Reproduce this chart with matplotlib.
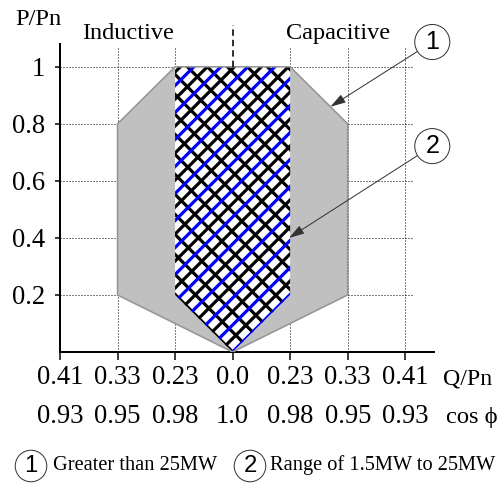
import matplotlib
matplotlib.use('Agg')
import numpy as np
import matplotlib.pyplot as plt
import matplotlib.transforms as mtrans
from matplotlib.patches import Polygon
from matplotlib.collections import LineCollection

# ---------------- data ----------------
q_pos = [-3, -2, -1, 0, 1, 2, 3]                      # evenly spaced tick slots
q_labels = ['0.41', '0.33', '0.23', '0.0', '0.23', '0.33', '0.41']
cos_labels = ['0.93', '0.95', '0.98', '1.0', '0.98', '0.95', '0.93']
p_ticks = [0.2, 0.4, 0.6, 0.8, 1.0]
p_labels = ['0.2', '0.4', '0.6', '0.8', '1']

# region 1 : greater than 25 MW (Q slot, P/Pn)
r1_q = [0, -2, -2, -1, 1, 2, 2]
r1_p = [0, 0.2, 0.8, 1.0, 1.0, 0.8, 0.2]
# region 2 : 1.5 MW to 25 MW
r2_q = [0, -1, -1, 1, 1]
r2_p = [0, 0.2, 1.0, 1.0, 0.2]

grid_q = [-2, -1, 1, 2, 3]
legend_items = [('1', 'Greater than 25MW'), ('2', 'Range of 1.5MW to 25MW')]

# ---------------- figure ----------------
DPI = 156
W, H = 499, 483
PT = 72.0 / DPI          # points per pixel

plt.rcParams['font.family'] = ['Liberation Serif', 'DejaVu Serif']
SANS = ['Liberation Sans', 'DejaVu Sans']

fig = plt.figure(figsize=(W / DPI, H / DPI), dpi=DPI)
ax = fig.add_axes([60 / W, 131 / H, 374 / W, 308 / H])
ax.set_xlim(-3, 3.5)
ax.set_ylim(0, 1.08)

for s in ['top', 'right']:
    ax.spines[s].set_visible(False)
for s in ['left', 'bottom']:
    ax.spines[s].set_linewidth(2.0 * PT)

# grid
ax.hlines(p_ticks, -3, 3.12, colors='black', linestyles=(0, (1, 2)),
          linewidth=1.0 * PT, zorder=0.5)
ax.vlines(grid_q, 0, 1.07, colors='black', linestyles=(0, (1, 2)),
          linewidth=1.0 * PT, zorder=0.5)

# region 1
ax.add_patch(Polygon(list(zip(r1_q, r1_p)), closed=True, facecolor='#c0c0c0',
                     edgecolor='none', zorder=1))
# region 2 (white background, hatched)
r2_patch = Polygon(list(zip(r2_q, r2_p)), closed=True, facecolor='white',
                   edgecolor='none', zorder=2)
ax.add_patch(r2_patch)

# hatch texture (style only): drawn in pixel space, clipped to region 2
tx, ty = ax.transData.transform((r2_q[0], r2_p[0]))
STEP_NE = 13.5      # px, horizontal spacing of '/' strokes
STEP_NW = 20.0      # px, horizontal spacing of '\' strokes
t = np.array([-60.0, 420.0])
ne_black, ne_blue, nw_black = [], [], []
for k in range(-30, 31):
    c = k * STEP_NE
    seg = np.column_stack([tx + c + t, ty + t])
    (ne_blue if k % 2 == 0 else ne_black).append(seg)
for k in range(-25, 26):
    c = k * STEP_NW
    nw_black.append(np.column_stack([tx + c - t, ty + t]))

for segs, col, z in [(nw_black, 'black', 2.2), (ne_black, 'black', 2.3),
                     (ne_blue, '#0000ff', 2.4)]:
    lc = LineCollection(segs, colors=col, linewidths=3.2 * PT,
                        transform=mtrans.IdentityTransform(), zorder=z)
    ax.add_collection(lc, autolim=False)
    lc.set_clip_path(r2_patch)

# outline of region 1
ax.add_patch(Polygon(list(zip(r1_q, r1_p)), closed=True, fill=False,
                     edgecolor='#969696', linewidth=1.6 * PT, zorder=3))

# dashed centre line above the chart
ax.plot([0, 0], [1.0, 1.147], color='black', linestyle=(0, (4, 2.5)),
        linewidth=1.6 * PT, clip_on=False, zorder=4)

# ticks
ax.set_xticks(q_pos)
ax.set_xticklabels(q_labels)
ax.set_yticks(p_ticks)
ax.set_yticklabels(p_labels)
ax.tick_params(axis='x', direction='out', length=8 * PT, width=1.5 * PT,
               labelsize=12.3, pad=2.5)
ax.tick_params(axis='y', direction='out', length=5 * PT, width=1.5 * PT,
               labelsize=12.3, pad=4.5)

# second row of x labels (cos phi)
tr = mtrans.blended_transform_factory(ax.transData, fig.transFigure)
for x, lab in zip(q_pos, cos_labels):
    ax.text(x, 1 - 423 / H, lab, transform=tr, ha='center', va='baseline',
            fontsize=12.3)

# axis titles / annotations
fig.text(15 / W, 1 - 25 / H, 'P/Pn', ha='left', va='baseline', fontsize=11.3)
fig.text(128 / W, 1 - 39 / H, 'Inductive', ha='center', va='baseline', fontsize=11.2)
fig.text(338 / W, 1 - 39 / H, 'Capacitive', ha='center', va='baseline', fontsize=11.2)
fig.text(443 / W, 1 - 385 / H, 'Q/Pn', ha='left', va='baseline', fontsize=11.0)
fig.text(446 / W, 1 - 423 / H, 'cos \u03d5', ha='left', va='baseline', fontsize=11.3,
         family=['Liberation Serif', 'DejaVu Serif', 'DejaVu Sans'])

circ = dict(boxstyle='circle,pad=0.22', facecolor='white', edgecolor='#333333',
            linewidth=1.0 * PT)
arrow = dict(arrowstyle='-|>,head_length=0.6,head_width=0.18', color='#333333',
             linewidth=1.0 * PT, shrinkA=0, shrinkB=0, mutation_scale=10)

ax.annotate('1', xy=(1.70, 0.86), xytext=(3.47, 1.087), textcoords='data',
            ha='center', va='center', fontsize=11.6, family=SANS,
            bbox=circ, arrowprops=arrow, annotation_clip=False, zorder=6)
ax.annotate('2', xy=(0.98, 0.40), xytext=(3.47, 0.722), textcoords='data',
            ha='center', va='center', fontsize=11.6, family=SANS,
            bbox=circ, arrowprops=arrow, annotation_clip=False, zorder=6)

# legend below
leg_circle_x = [31, 250]
leg_text_x = [53, 270]
circ_leg = dict(circ, boxstyle='circle,pad=0.2')
for (num, txt), cx, tx_ in zip(legend_items, leg_circle_x, leg_text_x):
    fig.text(cx / W, 1 - 466 / H, num, ha='center', va='center', fontsize=11.0,
             family=SANS, bbox=circ_leg)
    fig.text(tx_ / W, 1 - 470 / H, txt, ha='left', va='baseline', fontsize=9.4)

fig.savefig('out.png', dpi=DPI)
